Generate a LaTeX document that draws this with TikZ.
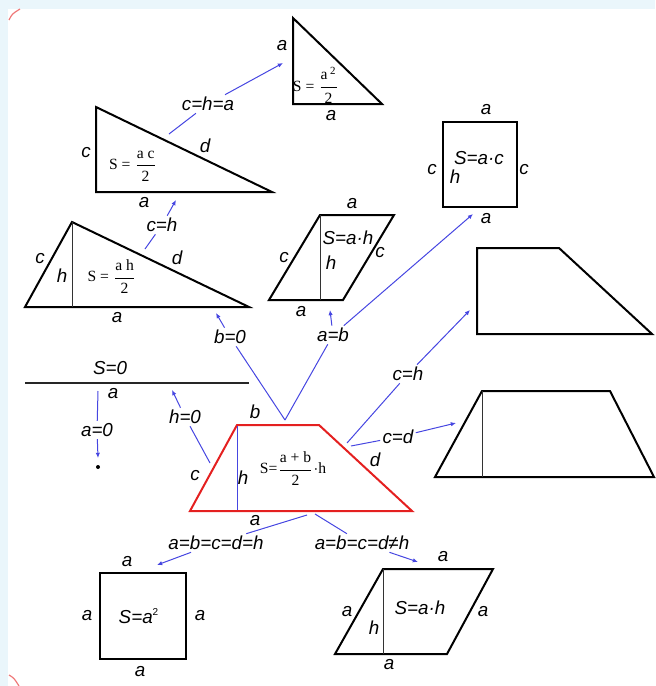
\documentclass[tikz,border=0pt]{standalone}
\usepackage{amsmath}
\usepackage{fontspec}
\setmainfont{Liberation Sans}
\newfontfamily\serifrm{Liberation Serif}
\usetikzlibrary{arrows.meta}
\definecolor{linkblue}{RGB}{70,70,225}
\definecolor{trapred}{RGB}{228,32,32}
\definecolor{paneblue}{RGB}{234,246,251}
\newcommand{\areafrac}[2]{$\dfrac{\text{#1}}{\text{#2}}$}

\begin{document}
\begin{tikzpicture}[x=0.5pt, y=-0.5pt,
  font=\fontsize{9.4}{11}\selectfont\itshape,
  outline/.style={line width=1pt, line join=miter},
  hgt/.style={line width=0.5pt, black!80},
  lbl/.style={inner sep=0pt},
  cond/.style={fill=white, inner sep=1pt},
  link/.style={linkblue, line width=0.5pt},
  arr/.style={link, -{Latex[length=2.6pt,width=2.2pt]}},
  formula/.style={font=\fontsize{7.8}{9}\selectfont\serifrm, inner sep=0pt}
]
\useasboundingbox (0,0) rectangle (655,686);
\fill[paneblue] (0,0) rectangle (655,9);
\fill[paneblue] (0,0) rectangle (8,686);
\draw[trapred!60, line width=0.6pt] (9,20) .. controls (12,14) .. (20,9);
\draw[trapred!60, line width=0.6pt] (9,675) .. controls (14,678) .. (19,686);

% right isosceles triangle
\draw[outline] (293,18) -- (293,104) -- (382,104) -- cycle;
\node[lbl] (t1c) at (282,46) {a};
\node[lbl] (t1a) at (331,116) {a};
\node[formula] (t1s) at (316,85) {S = \areafrac{a\,\textsuperscript{2}}{2}};

% right triangle
\draw[outline] (96,107) -- (96,192) -- (272,192) -- cycle;
\node[lbl] (t2c) at (86,153) {c};
\node[lbl] (t2a) at (144,203) {a};
\node[lbl] (t2d) at (205,146) {d};
\node[formula] (t2s) at (133,166) {S = \areafrac{a c}{2}};

% general triangle
\draw[outline] (72,222) -- (25,307) -- (249,307) -- cycle;
\draw[hgt] (72,222) -- (72,307);
\node[lbl] (t3c) at (40,259) {c};
\node[lbl] (t3h) at (62,276) {h};
\node[lbl] (t3d) at (177,258) {d};
\node[lbl] (t3a) at (117,318) {a};
\node[formula] (t3s) at (112,277) {S = \areafrac{a h}{2}};

% parallelogram (top)
\draw[outline] (269,300) -- (343,300) -- (394,215) -- (320,215) -- cycle;
\draw[hgt] (320,215) -- (320,300);
\node[lbl] (p1t) at (352,204) {a};
\node[lbl] (p1l) at (284,258) {c};
\node[lbl] (p1r) at (380,253) {c};
\node[lbl] (p1h) at (331,263) {h};
\node[lbl] (p1b) at (301,312) {a};
\node[lbl] (p1s) at (348,238) {S=a·h};

% rectangle
\draw[outline] (443,122) rectangle (517,207);
\node[lbl] (rt) at (486,110) {a};
\node[lbl] (rl) at (432,170) {c};
\node[lbl] (rr) at (524,170) {c};
\node[lbl] (rh) at (455,177) {h};
\node[lbl] (rb) at (486,219) {a};
\node[lbl] (rs) at (479,158) {S=a·c};

% right trapezoid
\draw[outline] (477,248) -- (559,248) -- (652,334) -- (477,334) -- cycle;

% isosceles trapezoid
\draw[outline] (435,477) -- (482,391) -- (610,391) -- (654,477) -- cycle;
\draw[hgt] (482,391) -- (482,477);

% degenerate: segment
\draw[outline, black!85] (25,383) -- (249,383);
\node[lbl] (s0) at (110,368) {S=0};
\node[lbl] (s0a) at (113,394) {a};
\fill (98,467) circle (2);

% main trapezoid
\draw[outline, trapred] (190,511) -- (237,425) -- (319,425) -- (412,511) -- cycle;
\draw[link] (237,426) -- (237,510);
\node[lbl] (mb) at (255,412) {b};
\node[lbl] (mc) at (195,476) {c};
\node[lbl] (mh) at (243,478) {h};
\node[lbl] (md) at (375,460) {d};
\node[lbl] (ma) at (255,521) {a};
\node[formula] (ms) at (293,469) {S=\areafrac{a + b}{2}$\cdot$h};

% square
\draw[outline] (100,573) rectangle (186,659);
\node[lbl] (qt) at (127,562) {a};
\node[lbl] (ql) at (87,616) {a};
\node[lbl] (qr) at (200,616) {a};
\node[lbl] (qb) at (140,672) {a};
\node[lbl] (qs) at (139,616) {S=a\textsuperscript{\upshape\tiny 2}};

% rhombus
\draw[outline] (335,654) -- (447,654) -- (493,569) -- (383,569) -- cycle;
\draw[hgt] (383,569) -- (383,654);
\node[lbl] (ht) at (443,557) {a};
\node[lbl] (hl) at (347,612) {a};
\node[lbl] (hr) at (483,612) {a};
\node[lbl] (hh) at (374,628) {h};
\node[lbl] (hb) at (389,665) {a};
\node[lbl] (hs) at (420,608) {S=a·h};

% connectors
\coordinate (apex) at (285,420);
\coordinate (chaS) at (169,134);
\coordinate (chaE) at (283,63);
\coordinate (ch1S) at (145,249);
\coordinate (ch1E) at (176,200);
\coordinate (b0E) at (216,313);
\coordinate (abE) at (330,310);
\coordinate (recE) at (473,214);
\coordinate (ch2S) at (347,443);
\coordinate (ch2E) at (470,310);
\coordinate (cdS) at (351,446);
\coordinate (cdE) at (456,423);
\coordinate (h0S) at (210,463);
\coordinate (h0E) at (172,390);
\coordinate (a0S) at (98,391);
\coordinate (a0E) at (98,458);
\coordinate (sqS) at (307,515);
\coordinate (sqE) at (157,565);
\coordinate (rhS) at (315,514);
\coordinate (rhE) at (418,562);

\node[cond] (cha) at (208,104) {c=h=a};
\node[cond] (ch1) at (162,225) {c=h};
\node[cond] (b0) at (230,337) {b=0};
\node[cond] (ab) at (333,335) {a=b};
\node[cond] (ch2) at (408,374) {c=h};
\node[cond] (cd) at (398,437) {c=d};
\node[cond] (h0) at (185,417) {h=0};
\node[cond] (a0) at (97,430) {a=0};
\node[cond] (sq) at (216,543) {a=b=c=d=h};
\node[cond] (rh) at (362,543) {a=b=c=d≠h};

\draw[link] (chaS) -- (cha);
\draw[arr] (cha) -- (chaE);
\draw[link] (ch1S) -- (ch1);
\draw[arr] (ch1) -- (ch1E);
\draw[link] (apex) -- (b0);
\draw[arr] (b0) -- (b0E);
\draw[link] (apex) -- (ab);
\draw[arr] (ab) -- (abE);
\draw[arr] (ab) -- (recE);
\draw[link] (ch2S) -- (ch2);
\draw[arr] (ch2) -- (ch2E);
\draw[link] (cdS) -- (cd);
\draw[arr] (cd) -- (cdE);
\draw[link] (h0S) -- (h0);
\draw[arr] (h0) -- (h0E);
\draw[link] (a0S) -- (a0);
\draw[arr] (a0) -- (a0E);
\draw[link] (sqS) -- (sq);
\draw[arr] (sq) -- (sqE);
\draw[link] (rhS) -- (rh);
\draw[arr] (rh) -- (rhE);
\end{tikzpicture}
\end{document}
